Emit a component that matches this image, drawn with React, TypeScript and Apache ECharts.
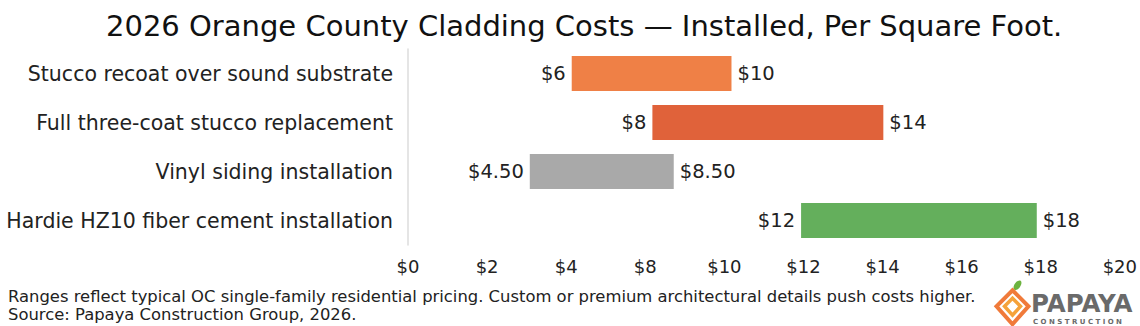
import React, { useEffect, useRef } from "react";
import * as echarts from "echarts";

// Categories (top to bottom)
const categories = [
  "Stucco recoat over sound substrate",
  "Full three-coat stucco replacement",
  "Vinyl siding installation",
  "Hardie HZ10 fiber cement installation",
];
// Axis tick labels as printed on the reference (evenly spaced)
const xTickLabels = ["$0", "$2", "$4", "$8", "$10", "$12", "$14", "$16", "$18", "$20"];
// Bar extents, in tick-step units of the axis above
const barStart = [2.07, 3.09, 1.54, 4.97];
const barEnd = [4.09, 6.01, 3.36, 7.95];
// Printed value labels
const lowLabels = ["$6", "$8", "$4.50", "$12"];
const highLabels = ["$10", "$14", "$8.50", "$18"];
const barColors = ["#EF8046", "#E0623A", "#A9A9A9", "#64AF5C"];

const FONT = "'DejaVu Sans', sans-serif";

export default function App() {
  const ref = useRef<HTMLDivElement>(null);
  useEffect(() => {
    if (!ref.current) return;
    const chart = echarts.init(ref.current, null, { renderer: "svg" });
    chart.setOption({
      animation: false,
      textStyle: { fontFamily: FONT },
      title: {
        text: "2026 Orange County Cladding Costs \u2014 Installed, Per Square Foot.",
        left: 101,
        top: 6,
        textStyle: { fontSize: 29, fontWeight: "normal", color: "#111", fontFamily: FONT },
      },
      grid: { left: 408, right: 19, top: 49, bottom: 81 },
      xAxis: {
        type: "value",
        min: 0,
        max: 9,
        interval: 1,
        splitLine: { show: false },
        axisLine: { show: false },
        axisTick: { show: false },
        axisLabel: {
          fontSize: 18,
          color: "#222",
          margin: 12,
          formatter: (v: number) => xTickLabels[Math.round(v)] ?? "",
        },
      },
      yAxis: {
        type: "category",
        inverse: true,
        data: categories,
        axisLine: { show: true, lineStyle: { color: "#dcdcdc", width: 1.5 } },
        axisTick: { show: false },
        axisLabel: { fontSize: 20.5, color: "#222", margin: 15 },
      },
      series: [
        {
          type: "bar",
          stack: "r",
          barWidth: 35,
          itemStyle: { color: "transparent" },
          data: barStart.map((v, i) => ({
            value: v,
            label: {
              show: true,
              position: "insideRight",
              distance: 6,
              formatter: lowLabels[i],
              fontSize: 19.5,
              color: "#222",
            },
          })),
          silent: true,
        },
        {
          type: "bar",
          stack: "r",
          barWidth: 35,
          data: barEnd.map((v, i) => ({
            value: v - barStart[i],
            itemStyle: { color: barColors[i] },
            label: {
              show: true,
              position: "right",
              distance: 6,
              formatter: highLabels[i],
              fontSize: 19.5,
              color: "#222",
            },
          })),
        },
      ],
      graphic: [
        {
          type: "text",
          left: 8,
          top: 287,
          style: {
            text:
              "Ranges reflect typical OC single-family residential pricing. Custom or premium architectural details push costs higher.\nSource: Papaya Construction Group, 2026.",
            fontSize: 16.4,
            lineHeight: 18,
            fill: "#222",
            fontFamily: FONT,
          },
        },
        // logo icon
        {
          type: "group",
          left: 994,
          top: 279,
          children: [
            {
              type: "ellipse",
              shape: { cx: 22, cy: 5, rx: 3, ry: 5.5 },
              rotation: -0.6,
              originX: 22,
              originY: 5,
              style: { fill: "#6DB33F" },
            },
            {
              type: "polygon",
              shape: { points: [[17, 10], [33, 26], [17, 44], [1, 26]] },
              style: { fill: "none", stroke: "#F07A3A", lineWidth: 4 },
            },
            {
              type: "polygon",
              shape: { points: [[17, 18], [25, 26], [17, 35], [9, 26]] },
              style: { fill: "none", stroke: "#F5A23A", lineWidth: 3.5 },
            },
          ],
        },
        {
          type: "text",
          left: 1031,
          top: 291,
          style: {
            text: "PAPAYA",
            fontSize: 24.5,
            fontWeight: "bold",
            fill: "#6a6a6a",
            fontFamily: "'DejaVu Sans', sans-serif",
          },
        },
        {
          type: "text",
          left: 1033,
          top: 318,
          style: {
            text: "C O N S T R U C T I O N",
            fontSize: 7,
            lineHeight: 8,
            fontWeight: "bold",
            fill: "#6a6a6a",
            fontFamily: "'DejaVu Sans', sans-serif",
          },
        },
      ],
    });
    return () => chart.dispose();
  }, []);
  return <div ref={ref} style={{ width: 1140, height: 326, position: "absolute", left: 0, top: 0 }} />;
}
